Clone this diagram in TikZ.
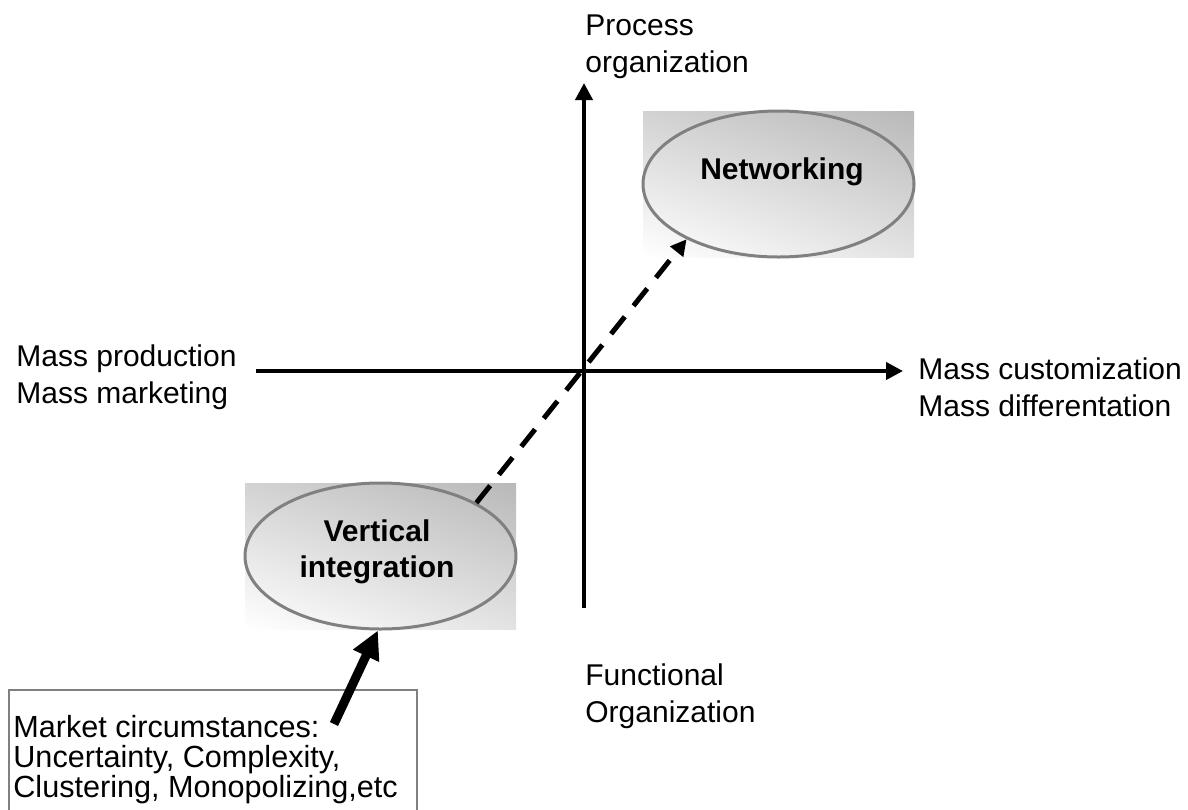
\documentclass[tikz,border=0pt]{standalone}
\usepackage{fontspec}
\setmainfont{Liberation Sans}
\usetikzlibrary{shapes.geometric,arrows.meta,shadings}
\begin{document}
\begin{tikzpicture}[x=0.5pt,y=-0.5pt,
  lbl/.style={inner sep=0pt, align=left, anchor=north west,
    font=\fontsize{15}{18.5}\selectfont},
  axisline/.style={line width=2pt, -{Triangle[length=8.5pt,width=8.5pt]}},
  bubble/.style={ellipse, draw=gray, line width=1.5pt, inner sep=0pt,
    minimum width=135.5pt, minimum height=73pt},
  bubbletext/.style={inner sep=0pt, align=center,
    font=\bfseries\fontsize{15}{18}\selectfont},
  tint/.style={upper left=gray!35, upper right=gray!55,
    lower left=white, lower right=gray!22},
  notebox/.style={draw=gray, line width=0.8pt, inner sep=0pt, anchor=north west,
    minimum width=204pt, minimum height=80pt},
  notetext/.style={inner sep=0pt, align=left, anchor=north west,
    font=\fontsize{15.3}{15}\selectfont},
  trend/.style={line width=2.5pt, dash pattern=on 11pt off 7pt,
    -{Triangle[length=8pt,width=8pt]}},
  push/.style={line width=4.5pt, -{Triangle[length=14pt,width=13.5pt]}}]

\useasboundingbox (0,0) rectangle (1188,809);
\clip (0,0) rectangle (1188,809);

% shaded backdrops behind the two strategies
\shade[tint] (643,111) rectangle (914,257);
\shade[tint] (245,483) rectangle (516,629);

% axes
\coordinate (xl) at (256,371);
\coordinate (xr) at (903,371);
\coordinate (yb) at (584,608);
\coordinate (yt) at (584,83);
\draw[axisline] (xl) -- (xr);
\draw[axisline] (yb) -- (yt);

% axis labels
\node[lbl] (top)    at (585,14)  {Process\\organization};
\node[lbl] (left)   at (16,344)  {Mass production\\Mass marketing};
\node[lbl] (right)  at (918,357) {Mass customization\\Mass differentation};
\node[lbl] (bottom) at (585,663) {Functional\\Organization};

% strategies
\node[bubble] (nw) at (778.5,184) {};
\node[bubble] (vi) at (380.5,556) {};
\node[bubbletext] (nwt) at (782,172) {Networking};
\node[bubbletext] (vit) at (377,552) {Vertical\\integration};

% driver box
\node[notebox] (mk) at (8,689) {};
\node[notetext] (mkt) at (13,715)
  {Market circumstances:\\Uncertainty, Complexity,\\Clustering, Monopolizing,etc};

% connectors
\draw[trend] (vi.29) -- (nw.211);
\coordinate (tail) at (334,724);
\draw[push] (tail) -- (vi.268);
\end{tikzpicture}
\end{document}
